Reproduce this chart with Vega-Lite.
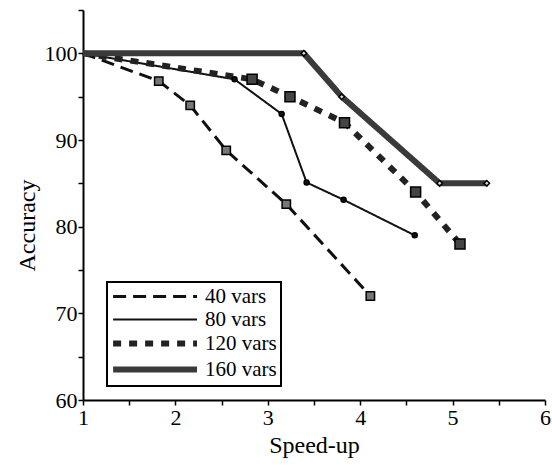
{
  "$schema": "https://vega.github.io/schema/vega-lite/v6.json",
  "autosize": "none",
  "width": 462,
  "height": 390,
  "padding": {"left": 83, "top": 10, "right": 7, "bottom": 65},
  "background": "white",
  "config": {
    "view": {"stroke": null},
    "font": "Liberation Serif",
    "axis": {"grid": false, "domainColor": "black", "domainWidth": 2, "tickColor": "black", "tickWidth": 1.5, "labelColor": "black", "titleColor": "black", "labelFont": "Liberation Serif", "titleFont": "Liberation Serif", "labelFontSize": 22, "titleFontSize": 24, "titleFontWeight": "normal"}
  },
  "data": {
    "values": [
      {"series": "40 vars", "x": 1, "y": 100},
      {"series": "40 vars", "x": 1.82, "y": 96.8},
      {"series": "40 vars", "x": 2.16, "y": 94.0},
      {"series": "40 vars", "x": 2.55, "y": 88.8},
      {"series": "40 vars", "x": 3.2, "y": 82.6},
      {"series": "40 vars", "x": 4.11, "y": 72.0},
      {"series": "80 vars", "x": 1, "y": 100},
      {"series": "80 vars", "x": 2.64, "y": 97.0},
      {"series": "80 vars", "x": 3.15, "y": 93.0},
      {"series": "80 vars", "x": 3.42, "y": 85.1},
      {"series": "80 vars", "x": 3.82, "y": 83.1},
      {"series": "80 vars", "x": 4.59, "y": 79.0},
      {"series": "120 vars", "x": 1, "y": 100},
      {"series": "120 vars", "x": 2.83, "y": 97.0},
      {"series": "120 vars", "x": 3.24, "y": 95.0},
      {"series": "120 vars", "x": 3.83, "y": 92.0},
      {"series": "120 vars", "x": 4.6, "y": 84.0},
      {"series": "120 vars", "x": 5.08, "y": 78.0},
      {"series": "160 vars", "x": 1, "y": 100},
      {"series": "160 vars", "x": 3.39, "y": 100},
      {"series": "160 vars", "x": 3.8, "y": 95.0},
      {"series": "160 vars", "x": 4.86, "y": 85.0},
      {"series": "160 vars", "x": 5.37, "y": 85.0}
    ]
  },
  "encoding": {
    "x": {"field": "x", "type": "quantitative", "scale": {"domain": [1, 6], "nice": false, "zero": false},
      "axis": {"title": "Speed-up", "values": [1, 1.5, 2, 2.5, 3, 3.5, 4, 4.5, 5, 5.5, 6], "labelExpr": "datum.value % 1 == 0 ? format(datum.value, 'd') : ''", "tickSize": 5, "labelPadding": 2, "titlePadding": 5, "labelFlush": false}},
    "y": {"field": "y", "type": "quantitative", "scale": {"domain": [60, 105], "nice": false, "zero": false},
      "axis": {"title": "Accuracy", "values": [60, 65, 70, 75, 80, 85, 90, 95, 100, 105], "labelExpr": "datum.value % 10 == 0 && datum.value <= 100 ? datum.label : ''", "tickSize": 5, "labelPadding": 1, "titlePadding": 5, "titleY": 215, "labelFlush": false}}
  },
  "resolve": {"scale": {"shape": "independent", "size": "independent", "fill": "independent"}, "legend": {"shape": "independent", "size": "independent", "fill": "independent"}},
  "layer": [
    {
      "mark": {"type": "line"},
      "encoding": {
        "strokeDash": {"field": "series", "type": "nominal",
          "scale": {"domain": ["40 vars", "80 vars", "120 vars", "160 vars"], "range": [[13, 7], [1, 0], [8, 8], [1, 0]]},
          "legend": {"title": null, "orient": "none", "legendX": 24, "legendY": 272, "symbolType": "M-1.6,0H14.4", "symbolSize": 110, "labelFontSize": 21, "labelFont": "Liberation Serif", "labelColor": "black", "strokeColor": "black", "padding": 4, "rowPadding": 1, "labelOffset": 73, "symbolStrokeColor": "black", "labelLimit": 300,
            "encode": {"legend": {"update": {"strokeWidth": {"value": 2}}}}}},
        "strokeWidth": {"field": "series", "type": "nominal", "scale": {"type": "ordinal", "domain": ["40 vars", "80 vars", "120 vars", "160 vars"], "range": [3, 2, 6, 6]}},
        "color": {"field": "series", "type": "nominal", "scale": {"domain": ["40 vars", "80 vars", "120 vars", "160 vars"], "range": ["#111111", "#111111", "#222222", "#3a3a3a"]}},
        "detail": {"field": "series"}
      }
    },
    {
      "mark": {"type": "point", "filled": true, "strokeWidth": 1.5, "stroke": "black", "opacity": 1},
      "transform": [{"filter": "datum.x > 1"}],
      "encoding": {
        "shape": {"field": "series", "type": "nominal", "legend": null, "scale": {"domain": ["40 vars", "80 vars", "120 vars", "160 vars"], "range": ["square", "circle", "square", "diamond"]}},
        "size": {"field": "series", "type": "nominal", "legend": null, "scale": {"type": "ordinal", "domain": ["40 vars", "80 vars", "120 vars", "160 vars"], "range": [70, 25, 100, 30]}},
        "fill": {"field": "series", "type": "nominal", "legend": null, "scale": {"domain": ["40 vars", "80 vars", "120 vars", "160 vars"], "range": ["#777777", "#111111", "#444444", "#dddddd"]}}
      }
    }
  ]
}
